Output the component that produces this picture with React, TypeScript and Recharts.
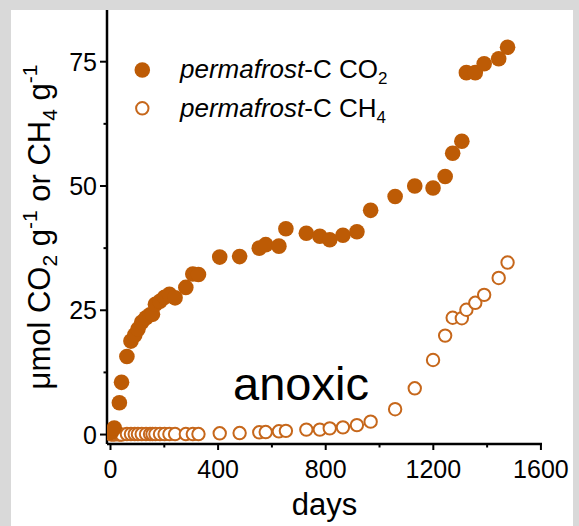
import { Legend, Scatter, ScatterChart, XAxis, YAxis } from "recharts";

// sampling days shared by both gases
const days = [
  3, 14, 33, 41, 61, 76, 90, 102, 116, 132, 147, 156, 167, 184, 201, 219, 240,
  280, 306, 327, 406, 480, 553, 577, 626, 652, 728, 778, 815, 864, 916, 967,
  1058, 1131, 1199, 1244, 1272, 1306, 1323, 1356, 1389, 1443, 1476,
];

const co2Values = [
  0.4, 1.3, 6.4, 10.5, 15.7, 18.8, 20.0, 21.2, 22.6, 23.5, 24.1, 24.2, 26.2,
  26.8, 27.6, 28.2, 27.5, 29.6, 32.3, 32.2, 35.7, 35.8, 37.5, 38.2, 37.9, 41.4,
  40.5, 39.9, 39.2, 40.1, 40.8, 45.1, 47.9, 50.0, 49.6, 51.9, 56.6, 59.0, 72.8,
  72.8, 74.6, 75.6, 77.9,
];

const ch4Values = [
  0, 0, 0, 0, 0.1, 0.1, 0.1, 0.1, 0.1, 0.1, 0.1, 0.1, 0.1, 0.1, 0.1, 0.1, 0.1,
  0.1, 0.1, 0.1, 0.25, 0.3, 0.45, 0.5, 0.65, 0.75, 1.0, 1.0, 1.25, 1.45, 1.9,
  2.6, 5.1, 9.3, 15.0, 19.9, 23.5, 23.4, 25.1, 26.5, 28.1, 31.5, 34.6,
];

const xTicks = [0, 200, 400, 600, 800, 1000, 1200, 1400, 1600];
const yTicks = [0, 12.5, 25, 37.5, 50, 62.5, 75];

const co2Data = days.map((day, i) => ({ day, value: co2Values[i] }));
const ch4Data = days.map((day, i) => ({ day, value: ch4Values[i] }));

const FONT = "'Liberation Sans', Arial, sans-serif";
const FILLED = "#bd5b05";
const OPEN = "#c6671b";

function XTick({ x, y, payload }: any) {
  const major = payload.value % 400 === 0;
  return (
    <g>
      <line x1={x} x2={x} y1={y} y2={y + (major ? 6 : 3.5)} stroke="#000" strokeWidth={2} />
      {major && (
        <text x={x} y={y + 34} textAnchor="middle" fontSize={25} fontFamily={FONT} fill="#000">
          {payload.value}
        </text>
      )}
    </g>
  );
}

function YTick({ x, y, payload }: any) {
  const major = payload.value % 25 === 0;
  return (
    <g>
      <line x1={x - (major ? 7 : 3.5)} x2={x} y1={y} y2={y} stroke="#000" strokeWidth={2} />
      {major && (
        <text x={x - 10} y={y + 9} textAnchor="end" fontSize={25} fontFamily={FONT} fill="#000">
          {payload.value}
        </text>
      )}
    </g>
  );
}

function FilledDot({ cx, cy }: any) {
  return <circle cx={cx} cy={cy} r={7.8} fill={FILLED} />;
}

function OpenDot({ cx, cy }: any) {
  return <circle cx={cx} cy={cy} r={6.2} fill="#fff" stroke={OPEN} strokeWidth={2} />;
}

function LegendBox() {
  return (
    <svg width={300} height={85} style={{ display: "block" }}>
      <circle cx={22.3} cy={25} r={7.8} fill={FILLED} />
      <text x={60} y={33.3} fontSize={26} fontFamily={FONT} fill="#000">
        <tspan fontStyle="italic">permafrost</tspan>-C CO
        <tspan fontSize={17} dy={6}>2</tspan>
      </text>
      <circle cx={22.3} cy={63.3} r={6.2} fill="#fff" stroke={OPEN} strokeWidth={2} />
      <text x={60} y={71.7} fontSize={26} fontFamily={FONT} fill="#000">
        <tspan fontStyle="italic">permafrost</tspan>-C CH
        <tspan fontSize={17} dy={6}>4</tspan>
      </text>
    </svg>
  );
}

export default function App() {
  return (
    <div style={{ position: "absolute", left: 0, top: 0, width: 579, height: 526, background: "#d9d9d9", overflow: "hidden" }}>
      <div style={{ position: "absolute", left: 11, top: 10, width: 562, height: 516, background: "#fff" }} />
      <div style={{ position: "absolute", left: 0, top: 0 }}>
        <ScatterChart width={579} height={526} margin={{ top: 10, right: 37, bottom: 0, left: 0 }}>
          <XAxis
            dataKey="day"
            type="number"
            domain={[-13, 1604]}
            ticks={xTicks}
            interval={0}
            allowDataOverflow
            tickSize={0}
            tickMargin={0}
            tickLine={false}
            tick={<XTick />}
            axisLine={{ stroke: "#000", strokeWidth: 2.5 }}
            height={82}
          />
          <YAxis
            dataKey="value"
            type="number"
            domain={[-1.9, 85.4]}
            ticks={yTicks}
            interval={0}
            allowDataOverflow
            tickSize={0}
            tickMargin={0}
            tickLine={false}
            tick={<YTick />}
            axisLine={{ stroke: "#000", strokeWidth: 2.5 }}
            width={107}
          />
          <Legend
            layout="vertical"
            align="center"
            verticalAlign="middle"
            content={() => <LegendBox />}
            wrapperStyle={{ left: 120, top: 45, width: 300, height: 85 }}
          />
          <Scatter name="permafrost-C CH4" data={ch4Data} shape={<OpenDot />} isAnimationActive={false} />
          <Scatter name="permafrost-C CO2" data={co2Data} shape={<FilledDot />} isAnimationActive={false} />
        </ScatterChart>
      </div>
      <svg width={579} height={526} style={{ position: "absolute", left: 0, top: 0, pointerEvents: "none" }}>
        <text x={301} y={400} textAnchor="middle" fontSize={47} fontFamily={FONT} fill="#000">
          anoxic
        </text>
        <text x={324.5} y={515} textAnchor="middle" fontSize={31} fontFamily={FONT} fill="#000">
          days
        </text>
        <text
          x={50}
          y={227}
          transform="rotate(-90, 50, 227)"
          textAnchor="middle"
          fontSize={31}
          fontFamily={FONT}
          fill="#000"
        >
          μmol CO
          <tspan fontSize={21} dy={7}>2</tspan>
          <tspan dy={-7}> g</tspan>
          <tspan fontSize={21} dy={-13}>-1</tspan>
          <tspan dy={13}> or CH</tspan>
          <tspan fontSize={21} dy={7}>4</tspan>
          <tspan dy={-7}> g</tspan>
          <tspan fontSize={21} dy={-13}>-1</tspan>
        </text>
      </svg>
    </div>
  );
}
